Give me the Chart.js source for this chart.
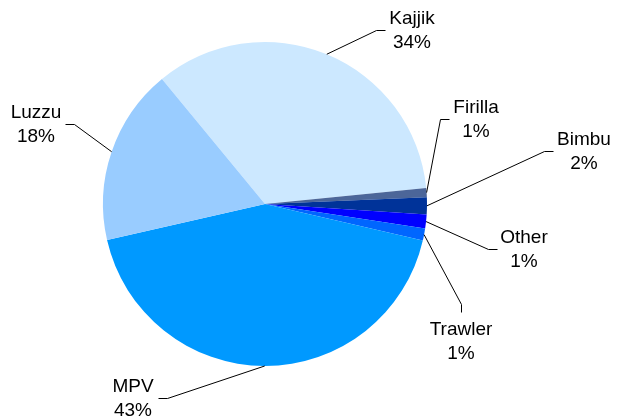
<!DOCTYPE html>
<html>
<head>
<meta charset="utf-8">
<script src="https://cdn.jsdelivr.net/npm/chart.js@4/dist/chart.umd.min.js"></script>
<style>
  html, body { margin: 0; padding: 0; background: #fff; }
  #wrap { width: 617px; height: 420px; }
</style>
</head>
<body>
<div id="wrap"><canvas id="pie" width="617" height="420"></canvas></div>
<script>
// fleet share by vessel type (clockwise from Kajjik)
const categories = ['Kajjik', 'Firilla', 'Bimbu', 'Other', 'Trawler', 'MPV', 'Luzzu'];
const shares = [34.4, 0.9, 1.7, 1.4, 1.2, 42.8, 17.6];
const sliceColors = ['#CCE8FF', '#4C6699', '#003399', '#0000FF', '#0066FF', '#0099FF', '#99CCFF'];

// where each label sits: text centre x, first baseline y, leader elbow and end
const labelSpots = [
    { tx: 412, ty: 24,  elbow: [376, 30],  end: [385, 30] },
    { tx: 476, ty: 113, elbow: [440, 119], end: [449, 119] },
    { tx: 584, ty: 145, elbow: [544, 151], end: [553, 151] },
    { tx: 524, ty: 243, elbow: [488, 249], end: [497, 249] },
    { tx: 461, ty: 335, elbow: [461, 304], end: [461, 312] },
    { tx: 133, ty: 392, elbow: [167, 398], end: [158, 398] },
    { tx: 36,  ty: 118, elbow: [74, 124],  end: [65, 124] }
];

const total = shares.reduce((a, b) => a + b, 0);

const calloutPlugin = {
    id: 'callouts',
    afterDraw(chart) {
        const ctx = chart.ctx;
        const arcs = chart.getDatasetMeta(0).data;
        ctx.save();
        ctx.strokeStyle = '#000';
        ctx.lineWidth = 1;
        ctx.fillStyle = '#000';
        ctx.font = '19px "Liberation Sans", Arial, sans-serif';
        ctx.textAlign = 'center';
        ctx.textBaseline = 'alphabetic';
        arcs.forEach((arc, i) => {
            const p = arc.getProps(['x', 'y', 'startAngle', 'endAngle', 'outerRadius'], true);
            const mid = (p.startAngle + p.endAngle) / 2;
            const sx = p.x + Math.cos(mid) * p.outerRadius;
            const sy = p.y + Math.sin(mid) * p.outerRadius;
            const spot = labelSpots[i];
            ctx.beginPath();
            ctx.moveTo(sx, sy);
            ctx.lineTo(spot.elbow[0] + 0.5, spot.elbow[1] + 0.5);
            ctx.lineTo(spot.end[0] + 0.5, spot.end[1] + 0.5);
            ctx.stroke();
            const pct = Math.round(shares[i] / total * 100) + '%';
            ctx.fillText(categories[i], spot.tx, spot.ty);
            ctx.fillText(pct, spot.tx, spot.ty + 23.5);
        });
        ctx.restore();
    }
};

new Chart(document.getElementById('pie'), {
    type: 'pie',
    data: {
        labels: categories,
        datasets: [{
            data: shares,
            backgroundColor: sliceColors,
            borderWidth: 0
        }]
    },
    options: {
        responsive: false,
        animation: false,
        rotation: -39.5,
        layout: { padding: { left: 103, right: 190, top: 42, bottom: 54 } },
        plugins: {
            legend: { display: false },
            tooltip: { enabled: false }
        }
    },
    plugins: [calloutPlugin]
});
</script>
</body>
</html>
